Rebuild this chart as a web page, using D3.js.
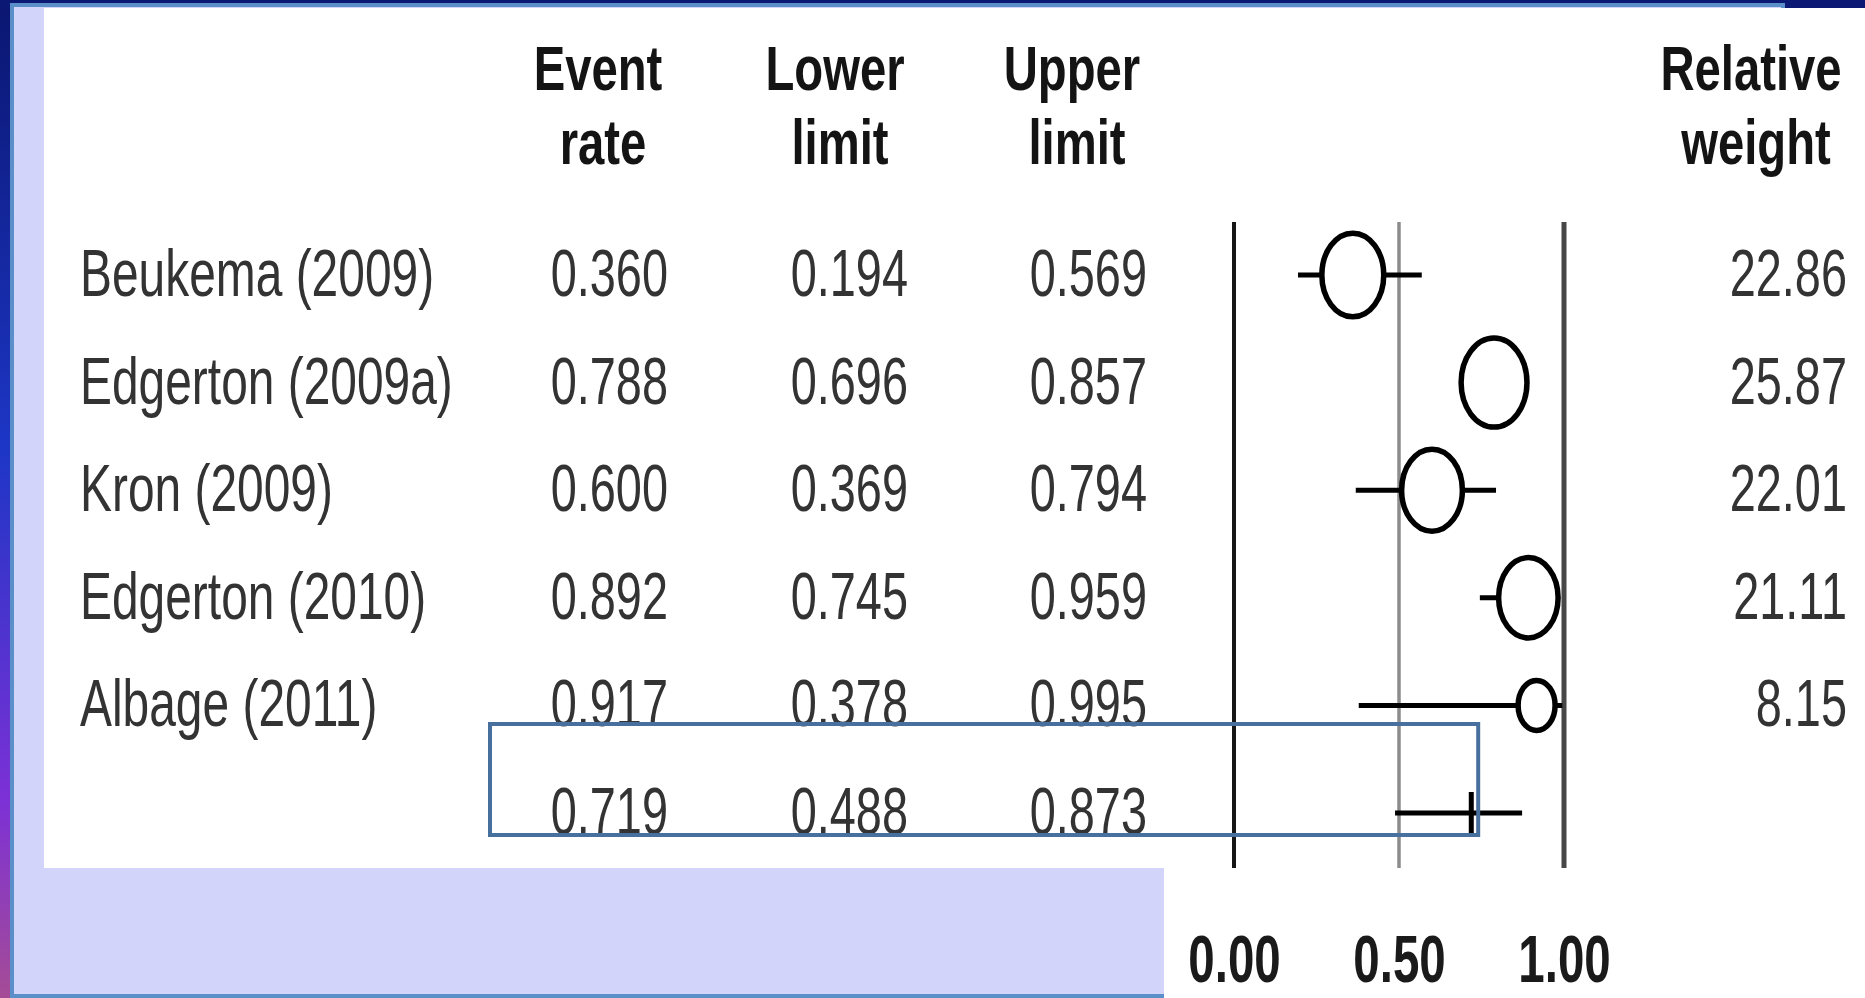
<!DOCTYPE html>
<html>
<head>
<meta charset="utf-8">
<script src="https://cdn.jsdelivr.net/npm/d3@7"></script>
<style>
  html, body { margin: 0; padding: 0; overflow: hidden; background: #0a1670; }
  svg { display: block; }
</style>
</head>
<body>
<svg id="chart" width="1865" height="998"></svg>
<script>
// ---- study-level data ----
const studies        = ["Beukema (2009)", "Edgerton (2009a)", "Kron (2009)", "Edgerton (2010)", "Albage (2011)"];
const eventRate      = [0.360, 0.788, 0.600, 0.892, 0.917];
const lowerLimit     = [0.194, 0.696, 0.369, 0.745, 0.378];
const upperLimit     = [0.569, 0.857, 0.794, 0.959, 0.995];
const relativeWeight = [22.86, 25.87, 22.01, 21.11, 8.15];

// ---- pooled estimate ----
const pooledRate  = 0.719;
const pooledLower = 0.488;
const pooledUpper = 0.873;

// ---- axis / header text ----
const axisTicks   = [0, 0.5, 1];
const headerLines = [["Event", "rate"], ["Lower", "limit"], ["Upper", "limit"], ["Relative", "weight"]];

const W = 1865, H = 998;
const svg = d3.select("#chart");
const FONT = "'Liberation Sans', Arial, Helvetica, sans-serif";

// ---------- slide background ----------
const defs = svg.append("defs");
const grad = defs.append("linearGradient").attr("id", "slideGrad")
  .attr("x1", 0).attr("y1", 0).attr("x2", 0).attr("y2", 1);
[[0, "#0a1670"], [0.45, "#1d36c6"], [0.8, "#7c31d6"], [1, "#a54c96"]]
  .forEach(([o, c]) => grad.append("stop").attr("offset", o).attr("stop-color", c));

svg.append("rect").attr("width", W).attr("height", H).attr("fill", "url(#slideGrad)");
svg.append("rect").attr("x", 0).attr("y", 0).attr("width", W).attr("height", 8).attr("fill", "#0b1874");
// lavender content frame
svg.append("rect")
  .attr("x", 12).attr("y", 5).attr("width", 1771).attr("height", 991)
  .attr("fill", "#d3d4fa").attr("stroke", "#5b8fc9").attr("stroke-width", 4);

// white plot panels
svg.append("rect").attr("x", 44).attr("y", 8).attr("width", W - 44).attr("height", 860).attr("fill", "#ffffff");
svg.append("rect").attr("x", 1164).attr("y", 860).attr("width", W - 1164).attr("height", H - 860).attr("fill", "#ffffff");

// ---------- scales ----------
const x = d3.scaleLinear().domain([0, 1]).range([1234, 1564]);
const yRow = d3.scaleLinear().domain([0, studies.length]).range([275, 813]);
const rScale = d3.scaleSqrt().domain([0, d3.max(relativeWeight)]).range([0, 44.5]);
const ASPECT = 0.74;           // markers are drawn taller than wide
const BASE = 21;               // text baseline below row centre

// ---------- text helper (horizontally condensed text) ----------
function txt(g, s, px, py, o) {
  return g.append("text")
    .attr("transform", `translate(${px},${py}) scale(${o.sx},1)`)
    .attr("text-anchor", o.anchor || "start")
    .attr("font-family", FONT)
    .attr("font-size", o.size)
    .attr("font-weight", o.weight || "normal")
    .attr("fill", o.fill || "#2e2e2e")
    .text(s);
}

// ---------- column headers ----------
const headerX = [598, 835, 1072, 1751];
const hdr = svg.append("g");
headerLines.forEach((lines, i) => {
  lines.forEach((line, j) => {
    txt(hdr, line, headerX[i] + j * 5, 90 + j * 74, { sx: 0.75, size: 63, weight: "bold", fill: "#141414", anchor: "middle" });
  });
});

// ---------- table body ----------
const REG = { sx: 0.70, size: 67, fill: "#333333" };
const tbl = svg.append("g");
const fmt3 = d3.format(".3f");
const fmt2 = d3.format(".2f");
const colRight = { rate: 668, lower: 908, upper: 1147, weight: 1847 };

studies.forEach((s, i) => {
  const yb = yRow(i) + BASE;
  txt(tbl, s, 80, yb, { ...REG, sx: 0.715 });
  txt(tbl, fmt3(eventRate[i]), colRight.rate, yb, { ...REG, anchor: "end" });
  txt(tbl, fmt3(lowerLimit[i]), colRight.lower, yb, { ...REG, anchor: "end" });
  txt(tbl, fmt3(upperLimit[i]), colRight.upper, yb, { ...REG, anchor: "end" });
  txt(tbl, fmt2(relativeWeight[i]), colRight.weight, yb, { ...REG, anchor: "end" });
});
const pyb = yRow(studies.length) + BASE;
txt(tbl, fmt3(pooledRate), colRight.rate, pyb, { ...REG, anchor: "end" });
txt(tbl, fmt3(pooledLower), colRight.lower, pyb, { ...REG, anchor: "end" });
txt(tbl, fmt3(pooledUpper), colRight.upper, pyb, { ...REG, anchor: "end" });

// ---------- reference lines at the axis ticks ----------
const refColor = ["#161616", "#8c8c8c", "#474747"];
const refWidth = [4, 3.5, 5];
svg.append("g").selectAll("line").data(axisTicks).join("line")
  .attr("x1", d => x(d)).attr("x2", d => x(d))
  .attr("y1", 222).attr("y2", 868)
  .attr("stroke", (d, i) => refColor[i])
  .attr("stroke-width", (d, i) => refWidth[i]);

// ---------- study confidence intervals + markers ----------
const plot = svg.append("g");
plot.selectAll("line.ci").data(studies).join("line")
  .attr("class", "ci")
  .attr("x1", (d, i) => x(lowerLimit[i])).attr("x2", (d, i) => x(upperLimit[i]))
  .attr("y1", (d, i) => yRow(i)).attr("y2", (d, i) => yRow(i))
  .attr("stroke", "#000").attr("stroke-width", 5);

plot.selectAll("ellipse").data(studies).join("ellipse")
  .attr("cx", (d, i) => x(eventRate[i]))
  .attr("cy", (d, i) => yRow(i))
  .attr("rx", (d, i) => rScale(relativeWeight[i]) * ASPECT)
  .attr("ry", (d, i) => rScale(relativeWeight[i]))
  .attr("fill", "#fff").attr("stroke", "#000").attr("stroke-width", 5.5);

// ---------- pooled estimate ----------
const py = yRow(studies.length);
plot.append("line")
  .attr("x1", x(pooledLower)).attr("x2", x(pooledUpper))
  .attr("y1", py).attr("y2", py)
  .attr("stroke", "#000").attr("stroke-width", 5);
plot.append("line")
  .attr("x1", x(pooledRate)).attr("x2", x(pooledRate))
  .attr("y1", py - 21).attr("y2", py + 21)
  .attr("stroke", "#000").attr("stroke-width", 5);

// ---------- x axis labels ----------
const axisG = svg.append("g")
  .attr("transform", "translate(0,982)")
  .call(d3.axisBottom(x).tickValues(axisTicks).tickFormat(fmt2).tickSize(0).tickPadding(0));
axisG.select(".domain").remove();
axisG.attr("font-family", FONT).attr("font-size", 66);
axisG.selectAll("text")
  .attr("y", 0).attr("dy", 0)
  .attr("transform", "scale(0.72,1)")
  .attr("font-weight", "bold")
  .attr("fill", "#1a1a1a");

// ---------- highlight box around the pooled row ----------
svg.append("rect")
  .attr("x", 490).attr("y", py - 89)
  .attr("width", x(0.74) - 490).attr("height", 111)
  .attr("fill", "none").attr("stroke", "#47709e").attr("stroke-width", 4);
</script>
</body>
</html>
